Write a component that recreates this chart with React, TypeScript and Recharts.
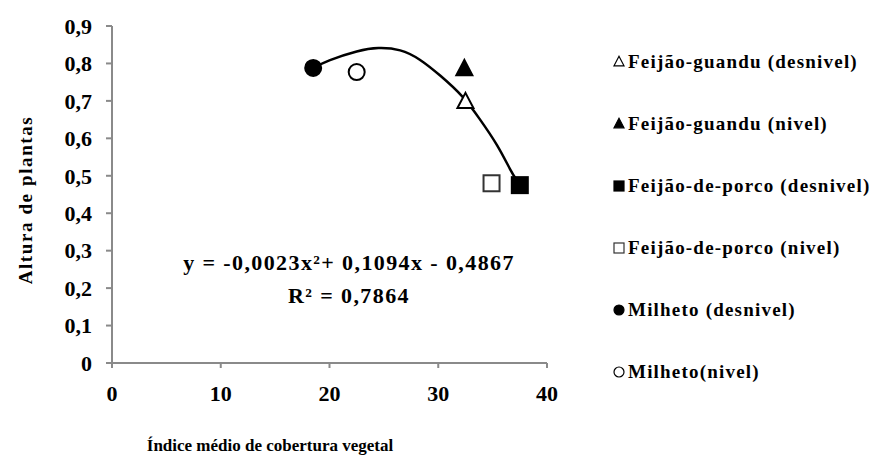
import React from 'react';
import { ComposedChart, Line, Scatter, XAxis, YAxis } from 'recharts';

// trend curve fitted over the six treatments
const curveX = [18.5, 20.05, 22.5, 24.5, 26.5, 28.3, 30.2, 32.2, 33.8, 35.4, 36.6, 37.2];
const curveY = [0.788, 0.809, 0.832, 0.841, 0.835, 0.81, 0.767, 0.712, 0.652, 0.582, 0.518, 0.489];

// one point per treatment
const seriesNames = [
  'Feijão-guandu (desnivel)',
  'Feijão-guandu (nivel)',
  'Feijão-de-porco (desnivel)',
  'Feijão-de-porco (nivel)',
  'Milheto (desnivel)',
  'Milheto(nivel)',
];
const seriesX = [32.5, 32.4, 37.5, 34.9, 18.5, 22.5];
const seriesY = [0.697, 0.785, 0.475, 0.48, 0.788, 0.777];
const seriesShape = ['triangle', 'triangle', 'square', 'square', 'circle', 'circle'];
const seriesFilled = [false, true, true, false, true, false];

const xTicks = [0, 10, 20, 30, 40];
const yTicks = [0, 0.1, 0.2, 0.3, 0.4, 0.5, 0.6, 0.7, 0.8, 0.9];

const curveData = curveX.map((x, i) => ({ x, y: curveY[i] }));

const FONT = '"Liberation Serif", "Times New Roman", serif';
const AXIS = '#8a8a8a';

function Marker({ cx, cy, shape, filled, r, sw = 2 }: any) {
  const fill = filled ? '#000' : '#fff';
  if (shape === 'circle') {
    return <circle cx={cx} cy={cy} r={r} fill={fill} stroke="#000" strokeWidth={sw} />;
  }
  if (shape === 'square') {
    return <rect x={cx - r} y={cy - r} width={r * 2} height={r * 2} fill={fill} stroke={filled ? '#000' : '#333'} strokeWidth={sw} />;
  }
  const h = r * 1.9;
  return (
    <polygon
      points={`${cx},${cy - h * 0.6} ${cx - r},${cy + h * 0.4} ${cx + r},${cy + h * 0.4}`}
      fill={fill}
      stroke="#000"
      strokeWidth={sw}
    />
  );
}

const LegendBox = () => (
  <div
    style={{
      position: 'absolute',
      left: 612,
      top: 31,
      fontFamily: FONT,
      fontWeight: 'bold',
      fontSize: 19,
      letterSpacing: 1.2,
      color: '#000',
      whiteSpace: 'nowrap',
    }}
  >
    {seriesNames.map((name, i) => (
      <div key={name} style={{ height: 62, display: 'flex', alignItems: 'center' }}>
        <svg width={14} height={14} style={{ marginRight: 2 }}>
          <Marker cx={7} cy={7} r={5} sw={1.2} shape={seriesShape[i]} filled={seriesFilled[i]} />
        </svg>
        <span>{name}</span>
      </div>
    ))}
  </div>
);

const fmtY = (v: number) => (v === 0 ? '0' : v.toFixed(1).replace('.', ','));

export default function App() {
  const tickStyle = { fontFamily: FONT, fontWeight: 'bold', fontSize: 22, fill: '#000' };
  const labelStyle = { fontFamily: FONT, fontWeight: 'bold', fill: '#000' };
  return (
    <div style={{ position: 'absolute', left: 0, top: 0, width: 885, height: 456, background: '#fff' }}>
      <ComposedChart width={885} height={456} margin={{ top: 26, right: 338, bottom: 0, left: 0 }}>
        <XAxis
          type="number"
          dataKey="x"
          domain={[0, 40]}
          ticks={xTicks}
          allowDataOverflow
          height={93}
          stroke={AXIS}
          strokeWidth={2}
          tickSize={5}
          tickMargin={17}
          tick={tickStyle}
        />
        <YAxis
          type="number"
          dataKey="y"
          domain={[0, 0.9]}
          ticks={yTicks}
          width={112}
          stroke={AXIS}
          strokeWidth={2}
          tickSize={6}
          tickMargin={14}
          tickFormatter={fmtY}
          tick={tickStyle}
        />
        <Line
          data={curveData}
          dataKey="y"
          type="natural"
          stroke="#000"
          strokeWidth={2.5}
          dot={false}
          isAnimationActive={false}
          legendType="none"
        />
        {seriesNames.map((name, i) => (
          <Scatter
            key={name}
            name={name}
            data={[{ x: seriesX[i], y: seriesY[i] }]}
            dataKey="y"
            isAnimationActive={false}
            shape={(p: any) => (
              <Marker cx={p.cx} cy={p.cy} r={8} shape={seriesShape[i]} filled={seriesFilled[i]} />
            )}
          />
        ))}
        <text x={349} y={270} textAnchor="middle" style={{ ...labelStyle, fontSize: 22, letterSpacing: 1.4 }}>
          y = -0,0023x²+ 0,1094x - 0,4867
        </text>
        <text x={349} y={303} textAnchor="middle" style={{ ...labelStyle, fontSize: 22, letterSpacing: 1.4 }}>
          R² = 0,7864
        </text>
        <text x={270} y={451} textAnchor="middle" style={{ ...labelStyle, fontSize: 17 }}>
          Índice  médio de cobertura vegetal
        </text>
        <text
          x={25}
          y={200}
          textAnchor="middle"
          transform="rotate(-90 25 200)"
          dominantBaseline="central"
          style={{ ...labelStyle, fontSize: 19, letterSpacing: 1.6 }}
        >
          Altura de plantas
        </text>
      </ComposedChart>
      <LegendBox />
    </div>
  );
}
